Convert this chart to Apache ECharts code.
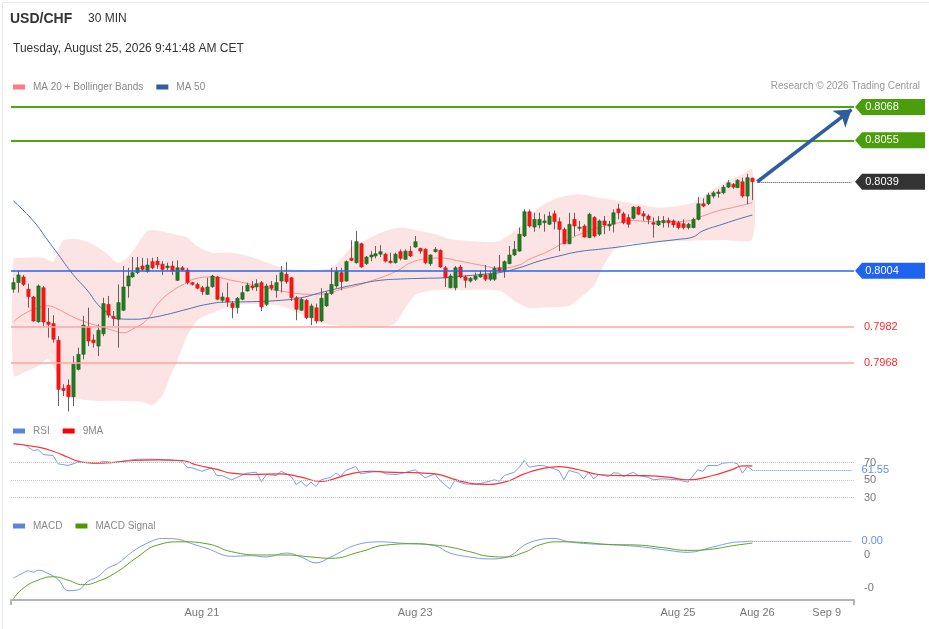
<!DOCTYPE html>
<html>
<head>
<meta charset="utf-8">
<title>USD/CHF 30 MIN</title>
<script src="https://cdn.jsdelivr.net/npm/echarts@6.0.0/dist/echarts.min.js"></script>
<style>
  html, body { margin: 0; padding: 0; background: #fff; }
  #main { width: 929px; height: 629px; }
</style>
</head>
<body>
<div id="main"></div>
<script>
// USD/CHF 30 min bars, rows are [open, close, low, high]
var candles = [
  [0.79968,0.79994,0.79955,0.80013],[0.79994,0.80024,0.79955,0.80039],[0.80016,0.79987,0.79981,0.80024],[0.79968,0.79939,0.79896,0.79990],
  [0.79938,0.79844,0.79841,0.79942],[0.79841,0.79981,0.79837,0.79987],[0.79974,0.79840,0.79825,0.79981],[0.79840,0.79831,0.79779,0.79896],
  [0.79834,0.79773,0.79759,0.79867],[0.79769,0.79577,0.79512,0.79785],[0.79581,0.79573,0.79551,0.79597],[0.79593,0.79548,0.79490,0.79616],
  [0.79548,0.79675,0.79512,0.79707],[0.79655,0.79714,0.79651,0.79740],[0.79714,0.79828,0.79694,0.79864],[0.79822,0.79766,0.79746,0.79896],
  [0.79770,0.79759,0.79740,0.79792],[0.79746,0.79808,0.79707,0.79831],[0.79794,0.79912,0.79785,0.79935],[0.79909,0.79867,0.79857,0.79942],
  [0.79862,0.79854,0.79825,0.79883],[0.79851,0.79916,0.79740,0.79987],[0.79886,0.79977,0.79883,0.80059],[0.79981,0.80020,0.79935,0.80052],
  [0.80016,0.80033,0.80013,0.80094],[0.80033,0.80052,0.80027,0.80094],[0.80059,0.80046,0.80039,0.80091],[0.80037,0.80063,0.80033,0.80089],
  [0.80076,0.80052,0.80046,0.80091],[0.80078,0.80063,0.80048,0.80094],[0.80066,0.80046,0.80024,0.80078],[0.80052,0.80059,0.80042,0.80072],
  [0.80059,0.80039,0.80024,0.80078],[0.80003,0.80052,0.80000,0.80081],[0.80052,0.80044,0.80039,0.80059],[0.80043,0.79994,0.79987,0.80052],
  [0.79994,0.79987,0.79983,0.79997],[0.79987,0.79972,0.79968,0.79994],[0.79974,0.79959,0.79946,0.79981],[0.79948,0.79977,0.79946,0.80013],
  [0.79978,0.80020,0.79974,0.80024],[0.80016,0.79929,0.79925,0.80020],[0.79925,0.79938,0.79916,0.79955],[0.79935,0.79919,0.79899,0.79994],
  [0.79913,0.79896,0.79855,0.79922],[0.79896,0.79933,0.79873,0.79938],[0.79929,0.79955,0.79925,0.79981],[0.79961,0.79984,0.79959,0.79994],
  [0.79981,0.79974,0.79964,0.80000],[0.79977,0.79990,0.79961,0.80007],[0.79994,0.79899,0.79883,0.80000],[0.79909,0.79981,0.79902,0.79990],
  [0.79984,0.79972,0.79964,0.80000],[0.79964,0.79994,0.79935,0.80024],[0.80000,0.80033,0.79955,0.80059],[0.80027,0.79998,0.79990,0.80075],
  [0.80013,0.79935,0.79922,0.80016],[0.79935,0.79890,0.79847,0.79942],[0.79886,0.79929,0.79883,0.79935],[0.79925,0.79857,0.79851,0.79929],
  [0.79857,0.79903,0.79828,0.79912],[0.79896,0.79844,0.79834,0.79912],[0.79844,0.79933,0.79840,0.79972],[0.79903,0.79951,0.79899,0.79959],
  [0.79951,0.79987,0.79946,0.80052],[0.79981,0.80039,0.79974,0.80055],[0.80033,0.79998,0.79964,0.80052],[0.80000,0.80076,0.79998,0.80081],
  [0.80089,0.80081,0.80078,0.80159],[0.80072,0.80154,0.80068,0.80196],[0.80146,0.80055,0.80052,0.80150],[0.80068,0.80094,0.80063,0.80098],
  [0.80094,0.80102,0.80078,0.80117],[0.80098,0.80107,0.80089,0.80137],[0.80105,0.80115,0.80094,0.80140],[0.80105,0.80078,0.80072,0.80111],
  [0.80078,0.80072,0.80068,0.80111],[0.80072,0.80105,0.80068,0.80111],[0.80115,0.80089,0.80081,0.80124],[0.80085,0.80117,0.80083,0.80124],
  [0.80117,0.80098,0.80094,0.80137],[0.80133,0.80154,0.80130,0.80176],[0.80128,0.80117,0.80107,0.80130],[0.80124,0.80072,0.80066,0.80128],
  [0.80068,0.80102,0.80059,0.80105],[0.80115,0.80124,0.80111,0.80133],[0.80120,0.80055,0.80052,0.80124],[0.80052,0.80013,0.79977,0.80059],
  [0.79974,0.80020,0.79972,0.80029],[0.79974,0.80052,0.79964,0.80059],[0.80055,0.80016,0.80011,0.80063],[0.80016,0.80003,0.79974,0.80024],
  [0.80000,0.80011,0.79994,0.80016],[0.80007,0.80020,0.80000,0.80033],[0.80016,0.80027,0.80013,0.80042],[0.80024,0.80007,0.80000,0.80063],
  [0.80007,0.80027,0.80000,0.80039],[0.80007,0.80050,0.80000,0.80059],[0.80052,0.80039,0.80033,0.80102],[0.80039,0.80076,0.80013,0.80081],
  [0.80068,0.80102,0.80066,0.80137],[0.80102,0.80124,0.80098,0.80157],[0.80117,0.80183,0.80115,0.80209],[0.80176,0.80271,0.80172,0.80280],
  [0.80271,0.80215,0.80209,0.80280],[0.80211,0.80241,0.80193,0.80267],[0.80219,0.80241,0.80206,0.80267],[0.80228,0.80235,0.80193,0.80261],
  [0.80222,0.80254,0.80219,0.80271],[0.80263,0.80232,0.80202,0.80276],[0.80232,0.80202,0.80117,0.80248],[0.80202,0.80146,0.80144,0.80209],
  [0.80146,0.80222,0.80144,0.80267],[0.80241,0.80215,0.80176,0.80267],[0.80206,0.80211,0.80196,0.80235],[0.80215,0.80172,0.80170,0.80222],
  [0.80170,0.80261,0.80167,0.80267],[0.80248,0.80176,0.80170,0.80254],[0.80183,0.80235,0.80176,0.80241],[0.80235,0.80219,0.80183,0.80254],
  [0.80215,0.80222,0.80196,0.80235],[0.80222,0.80267,0.80190,0.80280],[0.80282,0.80267,0.80241,0.80302],[0.80263,0.80228,0.80222,0.80271],
  [0.80248,0.80222,0.80209,0.80261],[0.80245,0.80289,0.80241,0.80293],[0.80289,0.80261,0.80257,0.80293],[0.80263,0.80254,0.80235,0.80274],
  [0.80254,0.80241,0.80222,0.80261],[0.80228,0.80222,0.80170,0.80248],[0.80219,0.80235,0.80215,0.80254],[0.80228,0.80237,0.80209,0.80254],
  [0.80237,0.80228,0.80209,0.80248],[0.80235,0.80219,0.80209,0.80241],[0.80228,0.80209,0.80202,0.80235],[0.80224,0.80209,0.80202,0.80241],
  [0.80209,0.80222,0.80202,0.80228],[0.80209,0.80241,0.80206,0.80248],[0.80241,0.80302,0.80237,0.80328],[0.80302,0.80293,0.80289,0.80323],
  [0.80302,0.80336,0.80297,0.80345],[0.80332,0.80345,0.80323,0.80352],[0.80342,0.80348,0.80326,0.80358],[0.80345,0.80367,0.80339,0.80375],
  [0.80367,0.80384,0.80363,0.80394],[0.80378,0.80367,0.80360,0.80383],[0.80365,0.80394,0.80363,0.80398],[0.80388,0.80332,0.80326,0.80404],
  [0.80332,0.80404,0.80300,0.80419],[0.80402,0.80388,0.80316,0.80404]
];

// indicator lines, read as [bar index, value]
var ma20 = [[0,0.79841],[2,0.7987],[5,0.79896],[7,0.79903],[9,0.7989],[12,0.7986],[14,0.79844],[17,0.79825],[20,0.79808],[22,0.79798],
  [24,0.79812],[27,0.79851],[29,0.79909],[32,0.79961],[35,0.79994],[37,0.80011],[40,0.80016],[44,0.80003],[48,0.79987],[54,0.79961],
  [61,0.79948],[64,0.79955],[66,0.79968],[69,0.79981],[72,0.8],[75,0.8002],[78,0.80047],[80,0.80071],[83,0.80086],[86,0.8009],
  [90,0.80078],[94,0.80063],[98,0.80051],[102,0.80063],[104,0.80085],[108,0.80118],[112,0.80163],[115,0.80189],[118,0.80209],[122,0.80228],
  [125,0.80237],[128,0.80232],[132,0.80232],[136,0.80235],[139,0.80254],[142,0.80274],[145,0.80287],[149,0.80306]];
var ma50 = [[0,0.80313],[4,0.80235],[7,0.80157],[9,0.80105],[12,0.80026],[15,0.79961],[17,0.79909],[19,0.79876],[21,0.79853],[24,0.79851],
  [27,0.79855],[31,0.7987],[35,0.7989],[39,0.79909],[43,0.79918],[47,0.79919],[54,0.79925],[58,0.79935],[62,0.79955],[66,0.79974],
  [70,0.7999],[74,0.80003],[78,0.80008],[83,0.80011],[87,0.80013],[91,0.8002],[95,0.80027],[98,0.80033],[102,0.80052],[106,0.80078],
  [110,0.80098],[114,0.80115],[118,0.80124],[122,0.80133],[126,0.80144],[130,0.80154],[134,0.80163],[137,0.80172],[139,0.80196],[143,0.80222],
  [146,0.80241],[149,0.80258]];
var bandUpper = [[0,0.80085],[2,0.80091],[6,0.80091],[8,0.80076],[9,0.80118],[10,0.80159],[13,0.80163],[16,0.80144],[19,0.80105],[21,0.80072],
  [23,0.80091],[25,0.80144],[27,0.80196],[29,0.80198],[32,0.80185],[35,0.8017],[37,0.80137],[40,0.80111],[44,0.80111],[48,0.80094],
  [52,0.80066],[56,0.80046],[60,0.80039],[64,0.80052],[66,0.80085],[68,0.8013],[70,0.8015],[74,0.80189],[78,0.80209],[81,0.802],
  [85,0.80184],[88,0.80164],[92,0.80157],[96,0.80153],[98,0.80157],[102,0.80209],[106,0.80287],[110,0.80326],[114,0.80339],[118,0.80326],
  [122,0.80313],[126,0.803],[130,0.80287],[134,0.80293],[137,0.80306],[140,0.80345],[144,0.80391],[147,0.80417],[149,0.80437]];
var bandLower = [[0,0.79629],[2,0.79642],[5,0.79668],[7,0.79696],[9,0.79629],[10,0.79559],[13,0.79539],[17,0.79532],[22,0.79532],[26,0.79528],
  [28,0.79516],[30,0.79551],[31,0.79598],[33,0.79688],[35,0.79785],[37,0.79844],[40,0.79875],[44,0.79903],[48,0.7991],[54,0.79903],
  [58,0.79871],[62,0.79836],[66,0.79825],[70,0.79821],[74,0.79817],[77,0.79836],[79,0.79895],[81,0.79945],[84,0.79962],[90,0.79965],
  [98,0.79962],[101,0.79922],[104,0.79895],[108,0.79899],[112,0.79903],[114,0.7993],[117,0.79981],[119,0.80059],[121,0.80118],[124,0.80145],
  [130,0.80153],[136,0.80157],[143,0.8016],[149,0.80164]];

var rsi = [[0,91.4],[2,90.6],[3,87.5],[4,83.7],[5,84.5],[6,79.1],[8,78],[9,68.5],[11,66.6],[13,70.3],[15,70.3],[17,69.2],[18,71.5],[20,70],
  [23,72.3],[25,73.8],[28,73.8],[31,73.1],[34,71.5],[35,64.6],[36,63.9],[38,60],[40,63.9],[41,55.1],[42,55.1],[44,50.2],[47,57.8],[49,58.9],
  [50,48.3],[51,56.3],[53,55.1],[54,60],[56,54],[57,44.9],[58,48.6],[59,42.6],[60,47.5],[61,42.6],[62,50.2],[64,53.2],[65,57.8],[66,54.3],
  [67,60.9],[69,65.4],[70,57],[72,58.9],[74,60],[75,57],[77,56.3],[78,57],[81,61.7],[83,52.5],[85,57],[86,49.4],[88,39.9],[89,49.4],
  [91,45.6],[93,44.9],[95,47.1],[97,50.2],[98,48.6],[99,55.1],[101,58.9],[102,64.6],[103,72.3],[104,64.6],[106,66.6],[107,66.2],[108,64.6],
  [110,60.9],[111,50.2],[112,60.9],[114,57.8],[115,51.4],[116,58.9],[117,51.4],[118,56.3],[120,54],[121,58.2],[122,57.8],[123,54],[125,58.9],
  [126,55.1],[128,53.2],[129,50.2],[131,51.4],[134,50.2],[136,47.5],[138,61.7],[139,60],[140,66.6],[142,66.6],[143,69.2],[145,70.3],
  [146,68.5],[147,57.8],[148,65.4],[149,61.55]];
var rsi9ma = [[0,91.4],[5,87.5],[8,82.9],[11,76],[13,71.5],[16,69.2],[20,70],[24,72.3],[29,73.1],[34,72.3],[37,67.1],[41,62.2],[44,57.8],
  [48,56.3],[54,57],[58,53.2],[62,48.3],[64,50.2],[68,57],[72,60],[75,58.9],[79,58.6],[85,57],[88,52.5],[91,47.5],[95,44.9],[99,47.5],
  [103,57],[106,62.2],[110,65.3],[114,61.7],[118,56.3],[122,55.1],[127,55.1],[132,53.2],[136,50.2],[141,55.1],[145,62.2],[147,66.2],[149,66.2]];
var macd = [[0,-0.00035],[2,-0.00027],[3,-0.00024],[4,-0.00026],[5,-0.00023],[7,-0.00028],[9,-0.00037],[11,-0.00054],[13,-0.00053],
  [15,-0.0004],[17,-0.00033],[19,-0.0002],[21,-0.00013],[24,0.00005],[27,0.00018],[30,0.00025],[33,0.00024],[36,0.00017],[39,0.0001],
  [44,-0.00002],[48,-0.00001],[51,-0.00003],[55,0.00003],[58,-0.00003],[61,-0.00012],[64,-0.00003],[69,0.00015],[74,0.0002],[78,0.00018],
  [85,0.00014],[88,0.00003],[92,-0.00003],[96,-0.00006],[100,-0.00002],[103,0.00015],[106,0.00023],[109,0.00025],[112,0.0002],[116,0.00017],
  [122,0.00015],[127,0.00012],[132,0.00007],[136,0.00004],[141,0.00012],[145,0.00019],[147,0.0002],[149,0.00021]];
var macdSignal = [[0,-0.00066],[2,-0.0005],[5,-0.00038],[8,-0.00033],[11,-0.00038],[14,-0.00045],[17,-0.0004],[21,-0.00025],[25,-0.00003],
  [29,0.00015],[34,0.0002],[39,0.00017],[44,0.00005],[50,0],[55,0],[60,-0.00003],[64,-0.00005],[70,0.00005],[75,0.00015],[81,0.00017],
  [85,0.00015],[88,0.00012],[92,0.00005],[96,-0.00002],[99,-0.00003],[103,0.00004],[106,0.00015],[110,0.0002],[115,0.00019],[120,0.00016],
  [126,0.00015],[131,0.00011],[136,0.00007],[141,0.00009],[145,0.00014],[149,0.00018]];

// levels
var resistances = [0.8068, 0.8055];
var pivot = 0.8004;
var supports = [0.7982, 0.7968];
var target = 0.8067;
var rsiLevels = [70, 50, 30];
var macdTicks = [-0.0005, 0];

// x axis labels
var tickIdx = [38, 81, 134, 150, 164];
var tickText = ['Aug 21', 'Aug 23', 'Aug 25', 'Aug 26', 'Sep 9'];

var SLOTS = 170; // bars plus blank room on the right
var cats = [];
for (var i = 0; i < SLOTS; i++) cats.push(String(i));

var lastBar = candles.length - 1;
var lastClose = candles[lastBar][1];
var lastRsi = rsi[rsi.length - 1][1];
var lastMacd = macd[macd.length - 1][1];

var FONT = 'Liberation Sans, Arial, sans-serif';

function renderCandle(params, api) {
  var idx = api.value(0);
  var o = api.coord([idx, api.value(1)]);
  var c = api.coord([idx, api.value(2)]);
  var l = api.coord([idx, api.value(3)]);
  var h = api.coord([idx, api.value(4)]);
  var w = api.size([1, 0])[0] * 0.68;
  var x = Math.round(o[0]) + 0.5;
  var up = api.value(2) >= api.value(1);
  var top = Math.min(o[1], c[1]);
  var hgt = Math.max(Math.abs(o[1] - c[1]), 1.2);
  return {
    type: 'group',
    children: [
      { type: 'line', shape: { x1: x, y1: h[1], x2: x, y2: l[1] },
        style: { stroke: '#6e5b5b', lineWidth: 1 } },
      { type: 'rect', shape: { x: x - w / 2, y: top, width: w, height: hgt },
        style: { fill: up ? '#207c20' : '#ff1414', stroke: up ? '#1a5f1a' : '#cc1010', lineWidth: 0.5 } }
    ]
  };
}

function renderBand(params, api) {
  var pts = [];
  bandUpper.forEach(function (d) { pts.push(api.coord(d)); });
  for (var k = bandLower.length - 1; k >= 0; k--) pts.push(api.coord(bandLower[k]));
  return { type: 'polygon', shape: { points: pts, smooth: 0.25 }, style: { fill: '#fde4e4' } };
}

function tag(value, color, text) {
  return {
    coord: [SLOTS - 1, value],
    itemStyle: { color: color },
    label: { formatter: text }
  };
}

function legendAt(top, names) {
  return {
    data: names, left: 13, top: top, padding: 0, icon: 'rect',
    itemWidth: 12, itemHeight: 5, itemGap: 13, selectedMode: false,
    textStyle: { color: '#888', fontSize: 10, fontFamily: FONT, padding: [0, 0, 0, 3] }
  };
}

function level(value, color, width, withLabel) {
  var item = { yAxis: value, lineStyle: { color: color, width: width, type: 'solid' } };
  if (withLabel) {
    item.label = { show: true, position: 'end', distance: 10, formatter: value.toFixed(4), color: '#ff2a2a', fontSize: 11 };
  }
  return item;
}

var chart = echarts.init(document.getElementById('main'));

chart.setOption({
  animation: false,
  backgroundColor: '#fff',
  textStyle: { fontFamily: FONT },
  title: [
    { text: 'USD/CHF', left: 10, top: 12, padding: 0, textStyle: { fontSize: 14, fontWeight: 'bold', color: '#333', fontFamily: FONT } },
    { text: '30 MIN', left: 88, top: 13, padding: 0, textStyle: { fontSize: 12, fontWeight: 'normal', color: '#333', fontFamily: FONT } },
    { text: 'Tuesday, August 25, 2026 9:41:48 AM CET', left: 13, top: 43, padding: 0, textStyle: { fontSize: 12, fontWeight: 'normal', color: '#333', fontFamily: FONT } },
    { text: 'Research © 2026 Trading Central', right: 9, top: 81, padding: 0, textStyle: { fontSize: 10, fontWeight: 'normal', color: '#999', fontFamily: FONT } }
  ],
  legend: [
    legendAt(82, ['MA 20 + Bollinger Bands', 'MA 50']),
    legendAt(426, ['RSI', '9MA']),
    legendAt(521, ['MACD', 'MACD Signal'])
  ],
  graphic: [
    { type: 'rect', left: 0, top: 0, z: 100, silent: true,
      shape: { x: 0.5, y: 0.5, width: 927, height: 627 },
      style: { fill: 'none', stroke: '#e4eaf0', lineWidth: 1 } }
  ],
  grid: [
    { left: 11, right: 75, top: 96.76, height: 320 },
    { left: 11, right: 75, top: 436.25, height: 78.75 },
    { left: 11, right: 75, top: 529.9, height: 70 }
  ],
  xAxis: [
    { type: 'category', gridIndex: 0, data: cats, boundaryGap: true, show: false },
    { type: 'category', gridIndex: 1, data: cats, boundaryGap: true, show: false },
    { type: 'category', gridIndex: 2, data: cats, boundaryGap: true,
      axisLine: { onZero: false, lineStyle: { color: '#b3b3b3', width: 2 } },
      axisTick: { show: true, length: 5, interval: function (i) { return i === 0; }, lineStyle: { color: '#b3b3b3', width: 2 } },
      axisLabel: {
        color: '#777', fontSize: 11, margin: 8,
        interval: function (i) { return tickIdx.indexOf(i) >= 0; },
        formatter: function (v) { return tickText[tickIdx.indexOf(+v)]; }
      } }
  ],
  yAxis: [
    { type: 'value', gridIndex: 0, min: 0.7947, max: 0.8072, show: false },
    { type: 'value', gridIndex: 1, min: 10, max: 100, show: false },
    { type: 'value', gridIndex: 2, min: -0.00068, max: 0.00038, position: 'right',
      axisLine: { show: false }, axisTick: { show: false }, splitLine: { show: false },
      axisLabel: { customValues: macdTicks, color: '#777', fontSize: 11, margin: 10,
        formatter: function (v) { return v.toFixed(0); } } }
  ],
  series: [
    { name: 'band', type: 'custom', xAxisIndex: 0, yAxisIndex: 0, silent: true, z: 1,
      renderItem: renderBand, data: [[0, bandUpper[0][1]]] },
    { name: 'MA 20 + Bollinger Bands', type: 'line', xAxisIndex: 0, yAxisIndex: 0, z: 2,
      data: ma20, smooth: true, showSymbol: false, color: '#ff7b7b',
      lineStyle: { width: 1, color: '#ff8c8c' } },
    { name: 'MA 50', type: 'line', xAxisIndex: 0, yAxisIndex: 0, z: 2, clip: false,
      data: ma50, smooth: true, showSymbol: false, color: '#2f5d9e',
      lineStyle: { width: 1, color: '#4b70ad' },
      markLine: {
        silent: true, symbol: ['none', 'none'], animation: false, precision: 6,
        label: { show: false },
        data: [
          level(resistances[0], '#51a316', 2, false),
          level(resistances[1], '#51a316', 2, false),
          level(pivot, '#2866ef', 1.5, false),
          level(supports[0], '#ffa3a3', 1.5, true),
          level(supports[1], '#ffa3a3', 1.5, true),
          [
            { coord: [lastBar + 1, lastClose], lineStyle: { color: '#444', width: 1, type: 'dotted' } },
            { coord: [SLOTS - 1, lastClose], lineStyle: { color: '#444', width: 1, type: 'dotted' } }
          ],
          [
            { coord: [lastBar + 1, lastClose], symbol: 'none', lineStyle: { color: '#2f5d9e', width: 3.5, type: 'solid' } },
            { coord: [SLOTS - 1, target], symbol: 'arrow', symbolSize: 16, lineStyle: { color: '#2f5d9e', width: 3.5, type: 'solid' } }
          ]
        ]
      },
      markPoint: {
        silent: true, animation: false,
        symbol: 'path://M0,8L7,0L70,0L70,16L7,16Z', symbolSize: [70, 16], symbolOffset: [38.5, 0],
        label: { show: true, position: 'inside', offset: [-8, 0], color: '#fff', fontSize: 11 },
        data: [
          tag(resistances[0], '#4a9d0b', resistances[0].toFixed(4)),
          tag(resistances[1], '#4a9d0b', resistances[1].toFixed(4)),
          tag(lastClose, '#333333', lastClose.toFixed(4)),
          tag(pivot, '#1e63f2', pivot.toFixed(4))
        ]
      } },
    { name: 'candles', type: 'custom', xAxisIndex: 0, yAxisIndex: 0, z: 3, silent: true,
      renderItem: renderCandle,
      encode: { x: 0, y: [1, 2, 3, 4] },
      data: candles.map(function (c, k) { return [k, c[0], c[1], c[2], c[3]]; }) },

    { name: 'RSI', type: 'line', xAxisIndex: 1, yAxisIndex: 1, clip: false,
      data: rsi, showSymbol: false, color: '#5b84e0',
      lineStyle: { width: 1, color: '#7d9de9' },
      markLine: {
        silent: true, symbol: ['none', 'none'], animation: false, precision: 4,
        data: rsiLevels.map(function (v) {
          return { yAxis: v, lineStyle: { color: '#c6c6c6', width: 1, type: 'dotted' },
            label: { show: true, position: 'end', distance: 10, formatter: String(v), color: '#777', fontSize: 11 } };
        }).concat([[
          { coord: [lastBar, lastRsi], lineStyle: { color: '#6a8ee6', width: 1, type: 'dotted' },
            label: { show: true, position: 'end', distance: 10, formatter: lastRsi.toFixed(2), color: '#6a8ee6', fontSize: 11 } },
          { coord: [SLOTS - 1, lastRsi] }
        ]])
      } },
    { name: '9MA', type: 'line', xAxisIndex: 1, yAxisIndex: 1,
      data: rsi9ma, smooth: true, showSymbol: false, color: '#ff0000',
      lineStyle: { width: 1.2, color: '#ff3333' } },

    { name: 'MACD', type: 'line', xAxisIndex: 2, yAxisIndex: 2, clip: false,
      data: macd, smooth: 0.4, showSymbol: false, color: '#5b84e0',
      lineStyle: { width: 1, color: '#7d9de9' },
      markLine: {
        silent: true, symbol: ['none', 'none'], animation: false, precision: 8,
        data: [[
          { coord: [lastBar, lastMacd], lineStyle: { color: '#6a8ee6', width: 1, type: 'dotted' },
            label: { show: true, position: 'end', distance: 10, formatter: lastMacd.toFixed(2), color: '#6a8ee6', fontSize: 11 } },
          { coord: [SLOTS - 1, lastMacd] }
        ]]
      } },
    { name: 'MACD Signal', type: 'line', xAxisIndex: 2, yAxisIndex: 2,
      data: macdSignal, smooth: true, showSymbol: false, color: '#4c9a00',
      lineStyle: { width: 1, color: '#5aa51a' } }
  ]
});
</script>
</body>
</html>
